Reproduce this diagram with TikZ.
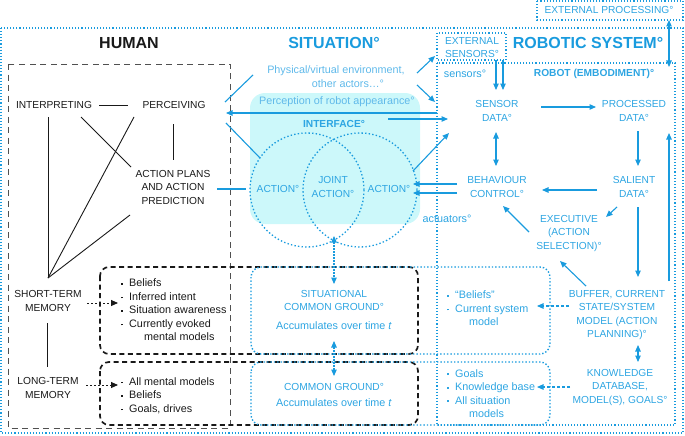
\documentclass[tikz,border=0pt]{standalone}
\usepackage{fontspec}
\setmainfont{Liberation Sans}
\usetikzlibrary{arrows.meta}
\definecolor{rblue}{RGB}{25,155,222}
\definecolor{tblue}{RGB}{45,165,226}
\definecolor{lblue}{RGB}{95,185,234}
\definecolor{cyfill}{RGB}{204,248,250}
\definecolor{hblack}{RGB}{25,25,25}
\definecolor{hgray}{RGB}{80,80,80}
\newcommand{\mybul}{\makebox[8pt][l]{\raisebox{2pt}{\rule{1.7pt}{1.7pt}}}}
\begin{document}
\begin{tikzpicture}[x=1pt,y=-1pt,
  >={Triangle[length=6.5pt,width=5.5pt]},
  capl/.style={font=\fontsize{10.2}{13.5}\selectfont, align=center, inner sep=1pt},
  lowl/.style={font=\fontsize{10.8}{13.5}\selectfont, align=center, inner sep=1pt},
  hlbl/.style={capl, text=hblack},
  blbl/.style={capl, text=tblue},
  llbl/.style={lowl, text=lblue},
  boldten/.style={font=\fontsize{10.2}{12}\selectfont\bfseries, inner sep=1pt},
  ttl/.style={font=\fontsize{16}{18}\selectfont\bfseries, inner sep=1pt},
  hlist/.style={lowl, align=left, text=hblack, anchor=west},
  blist/.style={lowl, align=left, text=tblue, anchor=west},
  bdot/.style={draw=rblue, line width=1.1pt, dash pattern=on 1.1pt off 2pt},
  bline/.style={draw=rblue, line width=1.1pt},
  hline/.style={draw=hblack, line width=0.9pt},
  cgbox/.style={draw=rblue, line width=1.4pt, dash pattern=on 1.4pt off 2pt, rounded corners=10pt},
  hbox/.style={draw=hblack, line width=1.7pt, dash pattern=on 5pt off 3.5pt, rounded corners=9pt},
  circl/.style={draw=rblue, line width=1.3pt, dash pattern=on 1.4pt off 2.2pt}
]
\useasboundingbox (0,0) rectangle (685,436);

% ---------- frames ----------
\draw[bdot] (1,28) rectangle (683,433);
\draw[bdot] (537,1) rectangle (683,20);
\draw[bdot] (437,33) rectangle (506,60);
\draw[bdot] (437,63) rectangle (675,425);
\draw[draw=hgray, line width=0.8pt, dash pattern=on 6pt off 4.5pt] (8,64) rectangle (230,428);

% interface
\fill[cyfill, rounded corners=15pt] (250,93) rectangle (420,224);
\draw[circl] (307,190) circle (57);
\draw[circl] (360,190) circle (57);

% common ground boxes
\draw[hbox] (100,267) rectangle (418,354);
\draw[hbox] (100,362) rectangle (418,425);
\draw[cgbox] (251,267) rectangle (550,354);
\draw[cgbox] (251,362) rectangle (550,425);

% ---------- titles ----------
\node[ttl, text=hblack] (human) at (129,43) {HUMAN};
\node[ttl, text=rblue] (situation) at (334,43) {SITUATION°};
\node[ttl, text=rblue] (robsys) at (588,43) {ROBOTIC SYSTEM°};
\node[blbl] (extsens) at (472,47.5) {EXTERNAL\\SENSORS°};
\node[blbl] (extproc) at (609,10) {EXTERNAL PROCESSING°};
\node[lowl, text=tblue] (sensorslbl) at (465,74) {sensors°};
\node[boldten, text=tblue] (robot) at (594,74) {ROBOT (EMBODIMENT)°};

% ---------- human ----------
\node[hlbl] (interp) at (54,105) {INTERPRETING};
\node[hlbl] (perc) at (174,105) {PERCEIVING};
\node[hlbl] (aplans) at (173,187) {ACTION PLANS\\AND ACTION\\PREDICTION};
\node[hlbl] (stm) at (48,301) {SHORT-TERM\\MEMORY};
\node[hlbl] (ltm) at (48,388) {LONG-TERM\\MEMORY};
\node[hlist] (stmlist) at (120,310) {\mybul Beliefs\\\mybul Inferred intent\\\mybul Situation awareness\\\mybul Currently evoked\\\hspace{23pt}mental models};
\node[hlist] (ltmlist) at (120,395.5) {\mybul All mental models\\\mybul Beliefs\\\mybul Goals, drives};

% ---------- situation ----------
\node[llbl] (phys) at (336,71) {Physical/virtual environment,};
\node[llbl] (actors) at (348,84) {other actors…°};
\node[llbl] (percapp) at (337,102) {Perception of robot appearance°};
\node[boldten, text=tblue] (iface) at (334,124) {INTERFACE°};
\node[blbl] (hact) at (278,189) {ACTION°};
\node[blbl] (jact) at (333,187) {JOINT\\ACTION°};
\node[blbl] (ract) at (389,189) {ACTION°};
\node[lowl, text=tblue] (actlbl) at (447,219) {actuators°};
\node[blbl] (scg) at (334,300.5) {SITUATIONAL\\COMMON GROUND°};
\node[lowl, text=tblue] (scgacc) at (334,326) {Accumulates over time \textit{t}};
\node[blbl] (cg) at (334,387) {COMMON GROUND°};
\node[lowl, text=tblue] (cgacc) at (334,403) {Accumulates over time \textit{t}};

% ---------- robot ----------
\node[blbl] (sensor) at (497,111) {SENSOR\\DATA°};
\node[blbl] (proc) at (634,111) {PROCESSED\\DATA°};
\node[blbl] (salient) at (634,187) {SALIENT\\DATA°};
\node[blbl] (behav) at (497,187) {BEHAVIOUR\\CONTROL°};
\node[blbl] (exec) at (569,233) {EXECUTIVE\\(ACTION\\SELECTION)°};
\node[blbl] (buffer) at (617,315) {BUFFER, CURRENT\\STATE/SYSTEM\\MODEL (ACTION\\PLANNING)°};
\node[blbl] (know) at (620,387) {KNOWLEDGE\\DATABASE,\\MODEL(S), GOALS°};
\node[blist] (rlist1) at (446,308.5) {\mybul ``Beliefs''\\\mybul Current system\\\hspace{22pt}model};
\node[blist] (rlist2) at (446,393.5) {\mybul Goals\\\mybul Knowledge base\\\mybul All situation\\\hspace{22pt}models};

% ---------- connector end points ----------
\coordinate (ip1) at (99,105);   \coordinate (ip2) at (128,105);
\coordinate (is1) at (48,117);   \coordinate (stmtop) at (48,278);
\coordinate (ps1) at (134,117);  \coordinate (as1) at (130,215);
\coordinate (ia1) at (81,117);   \coordinate (ia2) at (131,167);
\coordinate (pa1) at (173,124);  \coordinate (pa2) at (173,160);
\coordinate (sl1) at (47,323);   \coordinate (sl2) at (47,367);
\coordinate (sa1) at (87,303);   \coordinate (sa2) at (118,303);
\coordinate (la1) at (86,385);   \coordinate (la2) at (118,385);

\coordinate (ph1) at (253,75);   \coordinate (ph2) at (225,102);
\coordinate (pe1) at (417,73);   \coordinate (pe2) at (435,56);
\coordinate (pr1) at (417,85);   \coordinate (pr2) at (435,102);
\coordinate (rb1) at (437,113);  \coordinate (rb2) at (226,113);
\coordinate (if1) at (388,119);  \coordinate (if2) at (448,119);
\coordinate (pc1) at (226,123);  \coordinate (pc2) at (260,158);
\coordinate (ap1) at (217,189);  \coordinate (ap2) at (246,189);
\coordinate (rc1) at (413,171);  \coordinate (rc2) at (449,133);
\coordinate (ba1) at (457,184);  \coordinate (ba2) at (413,184);
\coordinate (ba3) at (457,193);  \coordinate (ba4) at (413,193);
\coordinate (cs1) at (334,236);  \coordinate (cs2) at (334,284);
\coordinate (cc1) at (334,341);  \coordinate (cc2) at (334,376);
\coordinate (bl1) at (569,306);  \coordinate (bl2) at (537,306);
\coordinate (kl1) at (570,387);  \coordinate (kl2) at (537,387);
\coordinate (es1) at (496,60);   \coordinate (es2) at (496,90);
\coordinate (es3) at (503,60);   \coordinate (es4) at (503,90);
\coordinate (ep1) at (669,20);   \coordinate (ep2) at (669,67);
\coordinate (sp1) at (541,107);  \coordinate (sp2) at (596,107);
\coordinate (ps3) at (638,131);  \coordinate (ps4) at (638,166);
\coordinate (sb1) at (597,190);  \coordinate (sb2) at (542,190);
\coordinate (sbh1) at (496,132); \coordinate (sbh2) at (496,166);
\coordinate (su1) at (638,207);  \coordinate (su2) at (638,277);
\coordinate (se1) at (617,207);  \coordinate (se2) at (606,217);
\coordinate (eb1) at (529,232);  \coordinate (eb2) at (503,206);
\coordinate (be1) at (586,286);  \coordinate (be2) at (560,261);
\coordinate (bk1) at (638,345);  \coordinate (bk2) at (638,362);
\coordinate (bp1) at (669,281);  \coordinate (bp2) at (669,133);

% ---------- human connectors ----------
\draw[hline] (ip1) -- (ip2);
\draw[hline] (is1) -- (stmtop);
\draw[hline] (ps1) -- (stmtop);
\draw[hline] (as1) -- (stmtop);
\draw[hline] (ia1) -- (ia2);
\draw[hline] (pa1) -- (pa2);
\draw[hline] (sl1) -- (sl2);
\draw[hline, ->, dash pattern=on 2pt off 2pt, >={Triangle[length=7pt,width=6pt]}] (sa1) -- (sa2);
\draw[hline, ->, dash pattern=on 2pt off 2pt, >={Triangle[length=7pt,width=6pt]}] (la1) -- (la2);

% ---------- situation connectors ----------
\draw[bline] (ph1) -- (ph2);
\draw[bline, ->] (pe1) -- (pe2);
\draw[bline, ->] (pr1) -- (pr2);
\draw[bline, ->] (rb1) -- (rb2);
\draw[bline, ->] (if1) -- (if2);
\draw[bline] (pc1) -- (pc2);
\draw[bline] (ap1) -- (ap2);
\draw[bline, ->] (rc1) -- (rc2);
\draw[bline, ->] (ba1) -- (ba2);
\draw[bline, ->] (ba3) -- (ba4);
\draw[bline, <->, dash pattern=on 1.5pt off 1.5pt] (cs1) -- (cs2);
\draw[bline, <->, dash pattern=on 1.5pt off 1.5pt] (cc1) -- (cc2);
\draw[bline, ->, dash pattern=on 3pt off 2pt] (bl1) -- (bl2);
\draw[bline, ->, dash pattern=on 3pt off 2pt] (kl1) -- (kl2);

% ---------- robot connectors ----------
\draw[bline, ->] (es1) -- (es2);
\draw[bline, ->] (es3) -- (es4);
\draw[bline, <->] (ep1) -- (ep2);
\draw[bline, ->] (sp1) -- (sp2);
\draw[bline, ->] (ps3) -- (ps4);
\draw[bline, ->] (sb1) -- (sb2);
\draw[bline, <->] (sbh1) -- (sbh2);
\draw[bline, ->] (su1) -- (su2);
\draw[bline, ->] (se1) -- (se2);
\draw[bline, ->] (eb1) -- (eb2);
\draw[bline, ->] (be1) -- (be2);
\draw[bline, <->] (bk1) -- (bk2);
\draw[bline, ->] (bp1) -- (bp2);
\end{tikzpicture}
\end{document}
